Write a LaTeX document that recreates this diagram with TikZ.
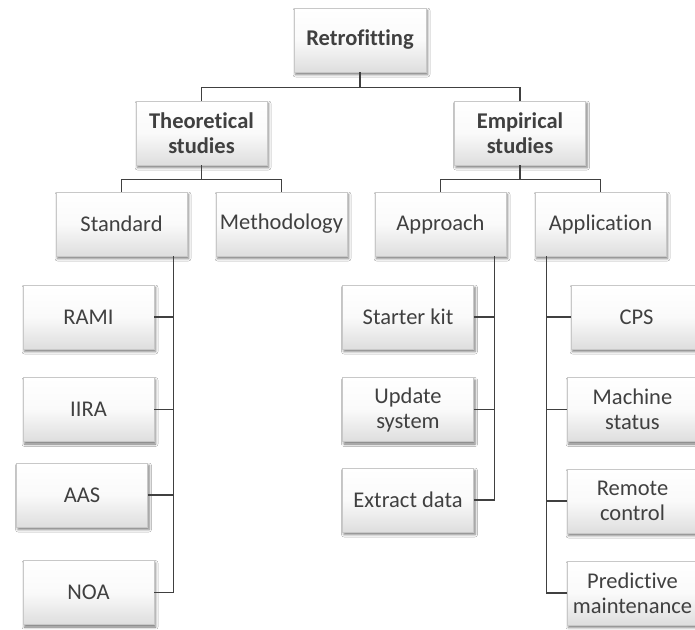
\documentclass[tikz,border=0pt]{standalone}
\usepackage{fontspec}
\setmainfont[Ligatures={NoCommon}]{Carlito}
\usetikzlibrary{shadows.blur}
\definecolor{txt}{HTML}{404040}
\definecolor{edge}{HTML}{C8C8C8}
\definecolor{conncol}{HTML}{404040}
\tikzset{
  box/.style={rectangle, draw=edge, line width=0.6pt,
    top color=white, bottom color=black!13, middle color=black!2,
    text=txt, align=center, inner sep=0pt,
    minimum width=131pt, minimum height=64pt,
    font=\fontsize{22.5}{25}\selectfont,
    blur shadow={shadow xshift=1.5pt, shadow yshift=-2.5pt, shadow blur radius=2.5pt, shadow opacity=55}},
  bbox/.style={box, font=\fontsize{22.5}{25}\selectfont\bfseries},
  conn/.style={draw=conncol, line width=1.4pt}
}
\begin{document}
\begin{tikzpicture}[x=1pt, y=-1pt]
\useasboundingbox (0,0) rectangle (695,629);
\clip (0,0) rectangle (695,629);
\fill[white] (0,0) rectangle (695,629);
% nodes
\node[bbox, minimum width=132pt] (retro) at (360,40) {Retrofitting};
\node[bbox] (theo) at (201.5,133) {Theoretical\\studies};
\node[bbox] (emp) at (520,133) {Empirical\\studies};
\node[box] (std) at (121.5,224) {Standard};
\node[box] (meth) at (281.5,224) {Methodology};
\node[box] (appr) at (440.5,224) {Approach};
\node[box] (appl) at (600.5,224) {Application};
\node[box] (rami) at (88.5,317) {RAMI};
\node[box] (iira) at (88.5,409.5) {IIRA};
\node[box] (aas) at (82,495) {AAS};
\node[box] (noa) at (88.5,592.5) {NOA};
\node[box] (starter) at (408,317) {Starter kit};
\node[box] (update) at (408,409.5) {Update\\system};
\node[box] (extract) at (408,500) {Extract data};
\node[box] (cps) at (636.5,317) {CPS};
\node[box] (machine) at (632.5,409.5) {Machine\\status};
\node[box] (remote) at (632.5,501) {Remote\\control};
\node[box] (predict) at (632.5,593) {Predictive\\maintenance};
% level 1
\draw[conn] (retro.south) -- ++(0,15) coordinate (b1);
\draw[conn] (theo.north) |- (b1) -| (emp.north);
% level 2
\draw[conn] (theo.south) -- ++(0,14) coordinate (b2);
\draw[conn] (std.north) |- (b2) -| (meth.north);
\draw[conn] (emp.south) -- ++(0,14) coordinate (b3);
\draw[conn] (appr.north) |- (b3) -| (appl.north);
% standard spine
\coordinate (s1) at ([xshift=-14pt]std.south east);
\draw[conn] (s1) |- (noa.east);
\draw[conn] (rami.east) -- (rami.east -| s1);
\draw[conn] (iira.east) -- (iira.east -| s1);
\draw[conn] (aas.east) -- (aas.east -| s1);
% approach spine
\coordinate (s2) at ([xshift=-12pt]appr.south east);
\draw[conn] (s2) |- (extract.east);
\draw[conn] (starter.east) -- (starter.east -| s2);
\draw[conn] (update.east) -- (update.east -| s2);
% application spine
\coordinate (s3) at ([xshift=12pt]appl.south west);
\draw[conn] (s3) |- (predict.west);
\draw[conn] (cps.west) -- (cps.west -| s3);
\draw[conn] (machine.west) -- (machine.west -| s3);
\draw[conn] (remote.west) -- (remote.west -| s3);
\end{tikzpicture}
\end{document}
